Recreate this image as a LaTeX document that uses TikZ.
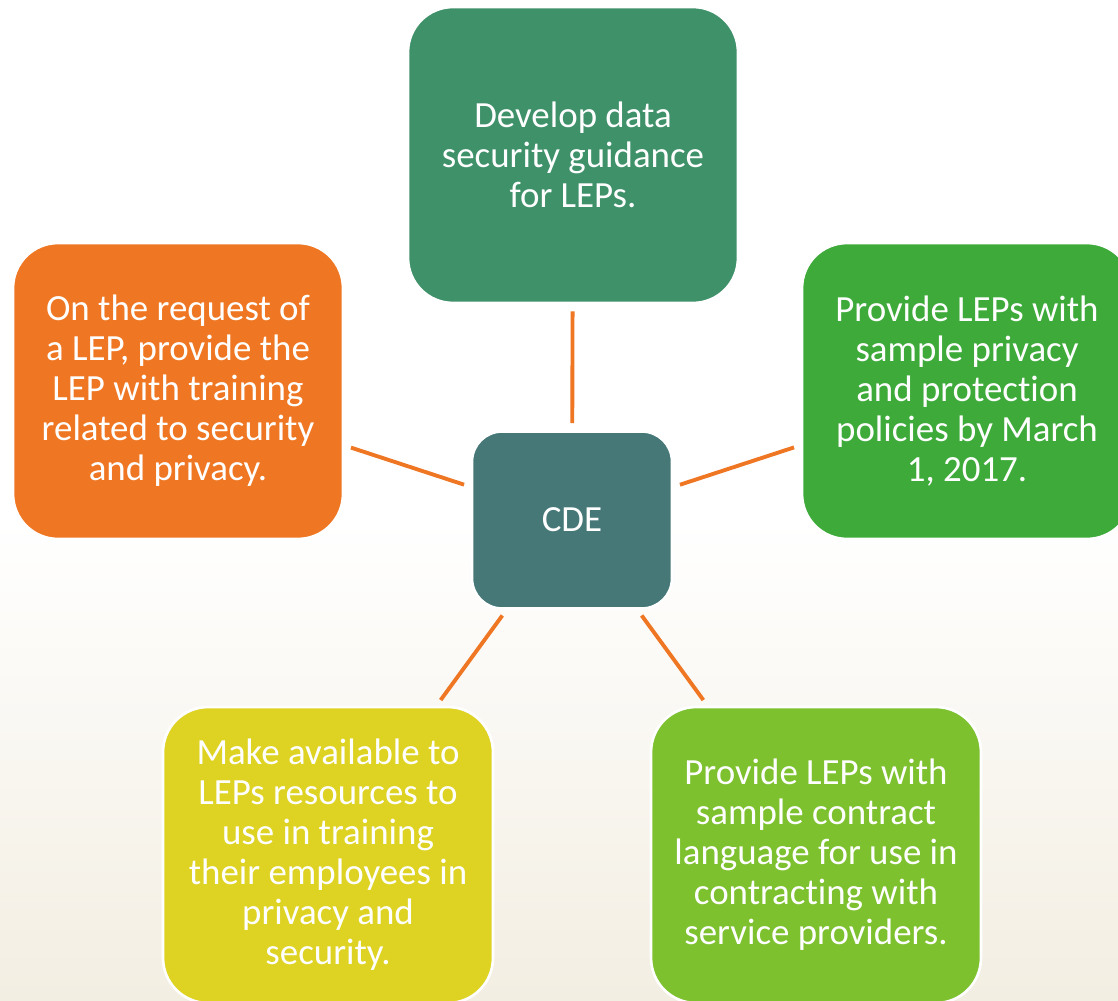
\documentclass[tikz,border=0pt]{standalone}
\usepackage{fontspec}
\setmainfont{Carlito}[Ligatures=NoCommon]
\usepackage{xcolor}
\usetikzlibrary{positioning,calc}

\definecolor{hubteal}{RGB}{70,120,120}
\definecolor{topgreen}{RGB}{63,145,106}
\definecolor{leftorange}{RGB}{239,118,34}
\definecolor{rightgreen}{RGB}{61,170,58}
\definecolor{lowyellow}{RGB}{222,211,35}
\definecolor{lowgreen}{RGB}{125,193,47}
\definecolor{linkorange}{RGB}{239,118,34}
\definecolor{bgbeige}{RGB}{243,238,226}

\tikzset{
  task/.style={draw=white, line width=1.5pt, rounded corners=0.9cm,
    minimum width=6.6cm, minimum height=5.92cm, align=center,
    text=white, font=\fontsize{21}{22.8}\selectfont},
  hub/.style={task, rounded corners=0.6cm, minimum width=4cm, minimum height=3.54cm},
  link/.style={linkorange, line width=2.2pt, shorten >=4pt, shorten <=4pt}
}

\begin{document}
\begin{tikzpicture}[x=0.02cm, y=-0.02cm]
    \useasboundingbox (0,0) rectangle (1118,1000);
    \fill[white] (0,0) rectangle (1118,520);
    \shade[top color=white, bottom color=bgbeige] (0,520) rectangle (1118,1000);

    % hub
    \node[hub, fill=hubteal] (cde) at (572,520) {CDE};

    % tasks round the hub
    \node[task, fill=topgreen] (guide) at (573,155) {Develop data\\security guidance\\for LEPs.};
    \node[task, fill=leftorange] (train) at (178,391) {On the request of\\a LEP, provide the\\LEP with training\\related to security\\and privacy.};
    \node[task, fill=rightgreen] (policy) at (967,391) {Provide LEPs with\\sample privacy\\and protection\\policies by March\\1, 2017.};
    \node[task, fill=lowyellow] (resource) at (328,855) {Make available to\\LEPs resources to\\use in training\\their employees in\\privacy and\\security.};
    \node[task, fill=lowgreen] (contract) at (816,855) {Provide LEPs with\\sample contract\\language for use in\\contracting with\\service providers.};

    % links
    \draw[link] (cde) -- (guide);
    \draw[link] (cde) -- (train);
    \draw[link] (cde) -- (policy);
    \draw[link] (cde) -- (resource);
    \draw[link] (cde) -- (contract);
\end{tikzpicture}
\end{document}
